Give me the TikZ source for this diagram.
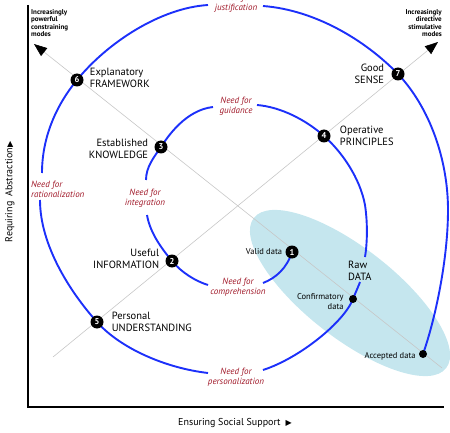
\documentclass[tikz,border=0pt]{standalone}
\usepackage{fontspec}
\setmainfont{PT Sans}
\newfontfamily\symfont{DejaVu Sans}
\usetikzlibrary{arrows.meta,positioning}
\definecolor{spiralblue}{RGB}{28,48,250}
\definecolor{needred}{RGB}{160,24,40}
\definecolor{datablue}{RGB}{197,230,238}

\begin{document}
\begin{tikzpicture}[x=1pt,y=-1pt,
    numdot/.style={circle, fill=black, inner sep=0pt, minimum size=13pt,
        text=white, font=\bfseries\fontsize{8.5}{8.5}\selectfont},
    datadot/.style={circle, fill=black, inner sep=0pt, minimum size=8pt},
    stage/.style={font=\fontsize{10.5}{11.5}\selectfont, inner sep=1pt},
    datalbl/.style={font=\fontsize{8.5}{10}\selectfont, inner sep=1pt},
    need/.style={font=\itshape\fontsize{9}{10}\selectfont, text=needred,
        align=center, inner sep=0pt},
    modes/.style={font=\bfseries\fontsize{7}{7.5}\selectfont, inner sep=0pt},
    spiral/.style={spiralblue, line width=1.9pt},
    diag/.style={black!22, line width=0.6pt},
    axis/.style={line width=2.8pt}]
\useasboundingbox (0,0) rectangle (450,433);

% positions of the stages
\foreach \i/\pos in {1/{292,252}, 2/{172,261}, 3/{161,147}, 4/{324,136},
                     5/{97,322}, 6/{77,80}, 7/{398,74}}
    \coordinate (p\i) at (\pos);
\coordinate (pconf) at (353,299);
\coordinate (pacc) at (423,354);

% the data region
\fill[datablue, rotate around={-38:(350,293)}] (350,293) ellipse [x radius=122pt, y radius=45pt];

% axes
\coordinate (top) at (28,5);
\coordinate (origin) at (28,407);
\coordinate (right) at (444,407);
\draw[axis] (top) -- (origin) -- (right);

% the two diagonals
\coordinate (upleft) at (34,44);
\coordinate (downright) at (442,368);
\coordinate (downleft) at (53,357);
\coordinate (upright) at (438,42);
\draw[diag, -{Triangle[length=13pt, width=10pt, color=black]}] (downright) -- (upleft);
\draw[diag, -{Triangle[length=13pt, width=10pt, color=black]}] (downleft) -- (upright);

% ends of the spiral round the labels
\coordinate (cmpE) at (263,283);
\coordinate (cmpW) at (208,285);
\coordinate (intS) at (147,215);
\coordinate (intN) at (146,180);
\coordinate (guiW) at (213,107);
\coordinate (guiE) at (257,105);
\coordinate (rawN) at (365,257);
\coordinate (rawS) at (360,282);
\coordinate (perE) at (263,370);
\coordinate (perW) at (208,373);
\coordinate (ratS) at (40,200);
\coordinate (ratN) at (42,173);
\coordinate (jusW) at (208,5);
\coordinate (jusE) at (263,6);

% draw the spiral
\draw[spiral] (p1) .. controls (287,268) and (276,278) .. (cmpE);
\draw[spiral] (cmpW) .. controls (195,281) and (181,272) .. (p2)
    .. controls (162,249) and (150,233) .. (intS);
\draw[spiral] (intN) .. controls (146,167) and (154,157) .. (p3)
    .. controls (168,136) and (186,110) .. (guiW);
\draw[spiral] (guiE) .. controls (281,107) and (306,120) .. (p4)
    .. controls (342,152) and (360,178) .. (365,205)
    .. controls (368,225) and (367,245) .. (rawN);
\draw[spiral] (rawS) .. controls (359,285) and (357,289) .. (pconf)
    .. controls (344,322) and (300,358) .. (perE);
\draw[spiral] (perW) .. controls (165,368) and (120,348) .. (p5)
    .. controls (70,292) and (40,245) .. (ratS);
\draw[spiral] (ratN) .. controls (42,135) and (58,103) .. (p6)
    .. controls (107,43) and (160,8) .. (jusW);
\draw[spiral] (jusE) .. controls (315,10) and (365,40) .. (p7)
    .. controls (430,108) and (448,160) .. (448,210)
    .. controls (448,260) and (435,320) .. (pacc);

% the stages
\foreach \i in {1,...,7}
    \node[numdot] (d\i) at (p\i) {\i};
\node[datadot] (conf) at (pconf) {};
\node[datadot] (acc) at (pacc) {};

\node[stage, right=5pt of d6, align=left, yshift=2pt] (lexpl) {Explanatory\\FRAMEWORK};
\node[stage, left=5pt of d3, align=right, yshift=-2pt] (lestab) {Established\\KNOWLEDGE};
\node[stage, right=8pt of d4, align=left] (loper) {Operative\\PRINCIPLES};
\node[stage, left=6pt of d7, align=right] (lgood) {Good\\SENSE};
\node[stage, left=5pt of d2, align=right, yshift=2pt] (luseful) {Useful\\INFORMATION};
\node[stage, right=7pt of d5, align=left] (lpers) {Personal\\UNDERSTANDING};
\node[stage, align=left, anchor=west] (lraw) at (347,271) {Raw\\DATA};

\node[datalbl, left=2pt of d1] (lvalid) {Valid data};
\node[datalbl, left=4pt of conf, align=right, yshift=-3pt] (lconf) {Confirmatory\\data};
\node[datalbl, left=2pt of acc, yshift=-2pt] (lacc) {Accepted data};

% the needs
\node[need] (lcmp) at (238,287) {Need for\\comprehension};
\node[need] (lint) at (145,198) {Need for\\integration};
\node[need] (lgui) at (236,106) {Need for\\guidance};
\node[need, align=left, anchor=west] (lrat) at (31,189.5) {Need for\\rationalization};
\node[need] (lper) at (236,377) {Need for\\personalization};
\node[need] (ljus) at (236,3) {Need for\\justification};

% modes at the arrow ends
\node[modes, align=left, anchor=west] (lconstr) at (31,23) {Increasingly\\powerful\\constraining\\modes};
\node[modes, align=right, anchor=east] (ldirect) at (442,23) {Increasingly\\directive\\stimulative\\modes};

% axis labels
\node[font=\fontsize{10}{12}\selectfont] (xlabel) at (235,423)
    {Ensuring Social Support\enspace{\symfont\fontsize{8}{8}\selectfont ▶}};
\node[font=\fontsize{10}{12}\selectfont, rotate=90] (ylabel) at (10,192)
    {Requiring\enspace Abstraction{\symfont\fontsize{8}{8}\selectfont ▶}};
\end{tikzpicture}
\end{document}
